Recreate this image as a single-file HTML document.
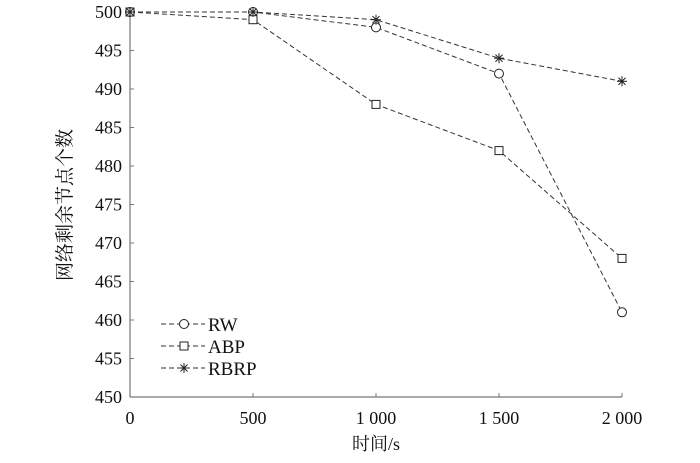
<!DOCTYPE html>
<html><head><meta charset="utf-8"><style>
body{margin:0;background:#fff}
svg text{font-family:"Liberation Serif","Noto Serif CJK SC",serif;fill:#111}
</style></head><body>
<svg width="700" height="458" id="c">
</svg>
<script>
const xCats=[0,500,1000,1500,2000];
const yTicks=[450,455,460,465,470,475,480,485,490,495,500];
const xTickLabels=["0","500","1 000","1 500","2 000"];
const rw=[500,500,498,492,461];
const abp=[500,499,488,482,468];
const rbrp=[500,500,499,494,491];
const seriesNames=["RW","ABP","RBRP"];
const NS="http://www.w3.org/2000/svg";
const svg=document.getElementById('c');
const X=v=>130+(v/2000)*492;
const Y=v=>397-(v-450)/50*385;
function mk(t,a,p){const e=document.createElementNS(NS,t);for(const k in a)e.setAttribute(k,a[k]);(p||svg).appendChild(e);return e;}
let g=mk('g',{});


mk('line',{x1:130,y1:12,x2:130,y2:397,stroke:'#777','stroke-width':1.2},g);
mk('line',{x1:130,y1:397,x2:622,y2:397,stroke:'#777','stroke-width':1.2},g);
yTicks.forEach(v=>{
 mk('line',{x1:130,y1:Y(v),x2:134,y2:Y(v),stroke:'#777'},g);
 const t=mk('text',{x:122,y:Y(v)+6,'text-anchor':'end','font-size':18},g);t.textContent=v;
 
 
});
xCats.forEach((v,i)=>{
 mk('line',{x1:X(v),y1:397,x2:X(v),y2:393,stroke:'#777'},g);
 const t=mk('text',{x:X(v),y:424,'text-anchor':'middle','font-size':18},g);t.textContent=xTickLabels[i];
 
 
});
let xt=mk('text',{x:376,y:450,'text-anchor':'middle','font-size':18});xt.textContent='时间/s';


let yt=mk('text',{x:0,y:0,'text-anchor':'middle','font-size':19,transform:'translate(71,205) rotate(-90)'});yt.textContent='网络剩余节点个数';


function marker(type,x,y,p){
 if(type==0)mk('circle',{cx:x,cy:y,r:4.5,fill:'#fff',stroke:'#222'},p);
 else if(type==1)mk('rect',{x:x-4,y:y-4,width:8,height:8,fill:'#fff',stroke:'#222'},p);
 else{for(let a=0;a<4;a++){const an=a*Math.PI/4;mk('line',{x1:x-5*Math.cos(an),y1:y-5*Math.sin(an),x2:x+5*Math.cos(an),y2:y+5*Math.sin(an),stroke:'#222'},p);}}
}
[rw,abp,rbrp].forEach((s,k)=>{
 const sg=mk('g',{});
 
 
 mk('polyline',{points:s.map((v,i)=>X(xCats[i])+','+Y(v)).join(' '),fill:'none',stroke:'#333','stroke-dasharray':'5,3','stroke-width':1},sg);
 s.forEach((v,i)=>marker(k,X(xCats[i]),Y(v),sg));
 const ly=324+k*22;
 const lg=mk('g',{});
 
 
 mk('line',{x1:161,y1:ly,x2:205,y2:ly,stroke:'#333','stroke-dasharray':'5,3'},lg);
 marker(k,184,ly,lg);
 const t=mk('text',{x:208,y:ly+7,'font-size':19},lg);t.textContent=seriesNames[k];
});
</script>
</body></html>
